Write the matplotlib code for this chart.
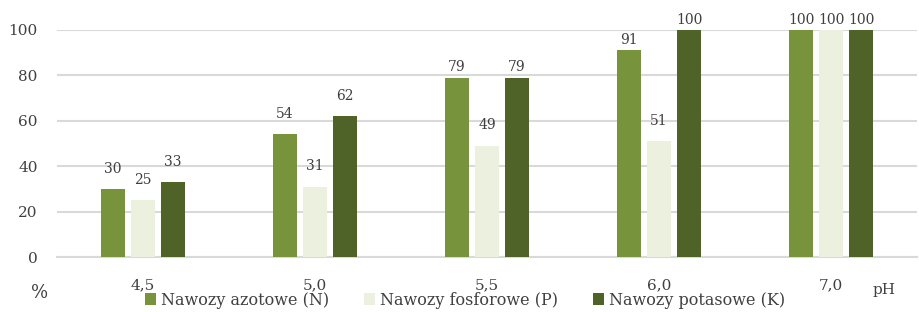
import numpy as np
import matplotlib.pyplot as plt

plt.rcParams.update({
    "font.family": "serif",
    "font.serif": ["DejaVu Serif", "Liberation Serif"],
    "font.size": 10.5,
})

categories = ["4,5", "5,0", "5,5", "6,0", "7,0"]
series_names = ["Nawozy azotowe (N)", "Nawozy fosforowe (P)", "Nawozy potasowe (K)"]
azot = [30, 54, 79, 91, 100]
fosfor = [25, 31, 49, 51, 100]
potas = [33, 62, 79, 100, 100]
colors = ["#77933C", "#EBF1DE", "#4F6228"]
yticks = [0, 20, 40, 60, 80, 100]

fig = plt.figure(figsize=(9.19, 3.12), dpi=100)
ax = fig.add_axes([0.062, 0.176, 0.936, 0.728])

x = np.arange(len(categories))
width = 0.14
step = 0.175
for i, (vals, name, col) in enumerate(zip([azot, fosfor, potas], series_names, colors)):
    pos = x + (i - 1) * step
    ax.bar(pos, vals, width, color=col, label=name, zorder=3)
    for p, v in zip(pos, vals):
        off = 9 if v < 70 else 4.5
        ax.text(p, v + off, str(v), ha="center", va="center", fontsize=10,
                color="#404040", clip_on=False)

ax.set_xlim(-0.5, len(categories) - 0.5)
ax.set_ylim(0, 100)
ax.set_yticks(yticks)
ax.set_xticks(x)
ax.set_xticklabels(categories)
ax.grid(axis="y", color="#d9d9d9", linewidth=1.5, zorder=0)
for s in ["left", "right", "top"]:
    ax.spines[s].set_visible(False)
ax.spines["bottom"].set_color("#d9d9d9")
ax.spines["bottom"].set_linewidth(1.5)
ax.tick_params(axis="both", length=0, labelsize=11, colors="#404040")
ax.tick_params(axis="x", pad=15)
ax.tick_params(axis="y", pad=14)

fig.text(0.034, 0.061, "%", fontsize=13, color="#404040", va="center")
fig.text(0.950, 0.072, "pH", fontsize=11, color="#404040", va="center")

fig.legend(loc="center", bbox_to_anchor=(0.506, 0.038), ncol=3, frameon=False,
           prop={"family": "serif", "size": 11.5}, handlelength=0.7,
           handleheight=0.7, handletextpad=0.3, columnspacing=2.2,
           labelcolor="#404040", borderaxespad=0, borderpad=0)

plt.savefig("out.png", dpi=100)
